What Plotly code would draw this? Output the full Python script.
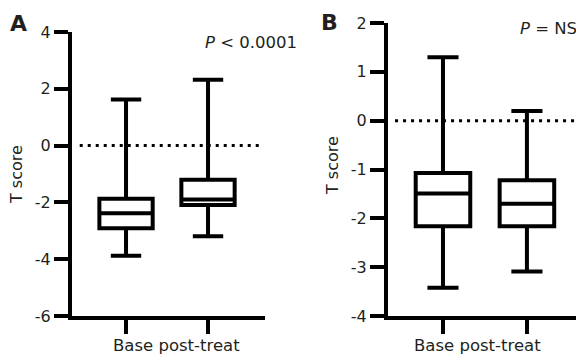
import plotly.graph_objects as go

# ---- data ----
groups = ["Base", "post-treat"]
xpos = [1, 2]
# Panel A
a_low = [-3.88, -3.19]
a_q1 = [-2.91, -2.09]
a_med = [-2.38, -1.90]
a_q3 = [-1.87, -1.20]
a_high = [1.62, 2.32]
a_ticks = [4, 2, 0, -2, -4, -6]
a_ticklabels = ["4", "2", "0", "-2", "-4", "-6"]
# Panel B
b_low = [-3.42, -3.09]
b_q1 = [-2.16, -2.16]
b_med = [-1.49, -1.70]
b_q3 = [-1.07, -1.22]
b_high = [1.30, 0.20]
b_ticks = [2, 1, 0, -1, -2, -3, -4]
b_ticklabels = ["2", "1", "0", "-1", "-2", "-3", "-4"]

# the page body adds an 8px margin; size the figure to fill the rest of the window
OFF = 8
W, H = 584 - OFF, 356 - OFF
INK = "#231f20"
FONT = "DejaVu Sans"

def px_x(p):
    return (p - OFF) / W

def px_y(p):
    return 1 - (p - OFF) / H

fig = go.Figure()
fig.add_trace(go.Box(
    x=xpos, q1=a_q1, median=a_med, q3=a_q3, lowerfence=a_low, upperfence=a_high,
    xaxis="x", yaxis="y", width=0.65, whiskerwidth=0.57, boxpoints=False,
    fillcolor="white", line=dict(color="black", width=4), showlegend=False,
    hoverinfo="skip"))
fig.add_trace(go.Box(
    x=xpos, q1=b_q1, median=b_med, q3=b_q3, lowerfence=b_low, upperfence=b_high,
    xaxis="x2", yaxis="y2", width=0.65, whiskerwidth=0.57, boxpoints=False,
    fillcolor="white", line=dict(color="black", width=4), showlegend=False,
    hoverinfo="skip"))

axis_common = dict(showline=True, linecolor="black", linewidth=4, ticks="outside",
                   ticklen=14, tickwidth=4, tickcolor="black", showgrid=False,
                   zeroline=False, automargin=False,
                   tickfont=dict(family=FONT, size=16, color=INK))

fig.update_layout(
    width=W, height=H, margin=dict(l=0, r=0, t=0, b=0, pad=0, autoexpand=False),
    plot_bgcolor="white", paper_bgcolor="white",
    xaxis=dict(domain=[px_x(72), px_x(265)], range=[0.341, 2.695], tickvals=xpos,
               showticklabels=False, anchor="y", **axis_common),
    yaxis=dict(domain=[px_y(316), px_y(32)], range=[-6, 4], tickvals=a_ticks,
               ticktext=a_ticklabels, anchor="x", **axis_common),
    xaxis2=dict(domain=[px_x(388), px_x(584)], range=[0.345, 2.68], tickvals=xpos,
                showticklabels=False, anchor="y2", **axis_common),
    yaxis2=dict(domain=[px_y(316), px_y(23)], range=[-4, 2], tickvals=b_ticks,
                ticktext=b_ticklabels, anchor="x2", **axis_common),
)

dot = dict(color="black", width=3, dash="3px,5px")
fig.add_shape(type="line", xref="x domain", yref="y", x0=0.04, x1=0.98, y0=0, y1=0, line=dot)
fig.add_shape(type="line", xref="x2 domain", yref="y2", x0=0.036, x1=1.0, y0=0, y1=0, line=dot)

def ann(text, x, y, size=16, bold=False, angle=0, xanchor="center"):
    fig.add_annotation(text=f"<b>{text}</b>" if bold else text, x=px_x(x), y=px_y(y),
                       xref="paper", yref="paper", showarrow=False, textangle=angle,
                       xanchor=xanchor, yanchor="middle",
                       font=dict(family=FONT, size=size, color=INK))

ann("A", 18, 23, size=22, bold=True)
ann("B", 329, 22, size=22, bold=True)
ann("<i>P</i> < 0.0001", 251, 43, size=16.5)
ann("<i>P</i> = NS", 548, 28, size=16.5)
ann("T score", 17, 175, angle=-90)
ann("T score", 332, 166, angle=-90)
ann(" ".join(groups), 176, 345, size=16.5)
ann(" ".join(groups), 477, 345, size=16.5)

fig.write_html("out.html")
